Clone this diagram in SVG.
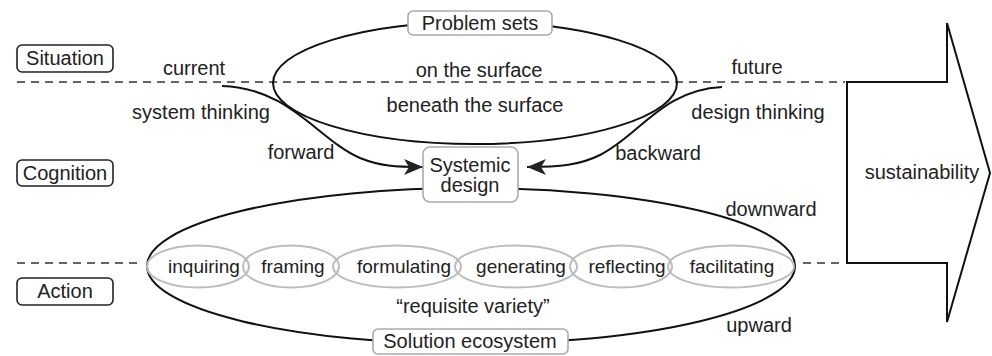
<svg xmlns="http://www.w3.org/2000/svg" width="992" height="356" viewBox="0 0 992 356">
<defs>
<style>
text{font-family:"Liberation Sans",Arial,sans-serif;font-size:20px;fill:#222;}
.c{text-anchor:middle;}
.s{font-size:19px;}
.dash{stroke:#333;stroke-width:1.6;stroke-dasharray:8 6;fill:none;}
.line{stroke:#111;stroke-width:2;fill:none;}
.small{stroke:#bdbdbd;stroke-width:2;fill:none;}
.gbox{fill:#fff;stroke:#aaa;stroke-width:1.6;}
.kbox{fill:#fff;stroke:#222;stroke-width:1.6;}
</style>
<marker id="ah" markerUnits="userSpaceOnUse" markerWidth="20" markerHeight="18" refX="19" refY="8" orient="auto" viewBox="0 0 20 16">
<path d="M0,0 L19,8 L0,16 L5,8 z" fill="#222"/>
</marker>
</defs>
<g id="dividers">
<line class="dash" x1="17" y1="82" x2="845" y2="82"/>
<line class="dash" x1="17" y1="263" x2="142" y2="263"/>
<line class="dash" x1="803" y1="263" x2="845" y2="263"/>
</g>
<g id="problem-ellipse"><ellipse class="line" cx="475" cy="83" rx="202" ry="61"/></g>
<g id="solution-ellipse"><ellipse class="line" cx="471" cy="266" rx="324" ry="78"/></g>
<g id="actions">
<g id="inquiring"><ellipse class="small" cx="198" cy="266.5" rx="51" ry="21"/><text class="c s" x="204" y="273">inquiring</text></g>
<g id="framing"><ellipse class="small" cx="291" cy="266.5" rx="48" ry="21"/><text class="c s" x="293" y="273">framing</text></g>
<g id="formulating"><ellipse class="small" cx="397" cy="266.5" rx="64" ry="21"/><text class="c s" x="404" y="273">formulating</text></g>
<g id="generating"><ellipse class="small" cx="516" cy="266.5" rx="61" ry="21"/><text class="c s" x="521" y="273">generating</text></g>
<g id="reflecting"><ellipse class="small" cx="621" cy="266.5" rx="51" ry="21"/><text class="c s" x="627" y="273">reflecting</text></g>
<g id="facilitating"><ellipse class="small" cx="731" cy="266.5" rx="63" ry="21"/><text class="c s" x="732" y="273">facilitating</text></g>
</g>
<g id="connectors">
<path class="line" d="M222,86 C290,88 318,140 360,158 C380,166 395,167 423,167" marker-end="url(#ah)"/>
<path class="line" d="M722,87 C662,90 640,135 600,155 C580,165 560,167 527,167" marker-end="url(#ah)"/>
</g>
<g id="sustainability">
<path class="line" d="M847,82 L947,82 L947,23 L990,173 L947,322 L947,263 L847,263 Z" fill="#fff"/>
<text class="c" x="922" y="179">sustainability</text>
</g>
<g id="problem-sets"><rect class="gbox" x="408" y="11" width="144" height="24" rx="5"/><text class="c" x="480" y="30">Problem sets</text></g>
<g id="systemic-design"><rect class="gbox" x="423" y="147" width="95" height="55" rx="7"/><text class="c" x="470" y="172">Systemic</text><text class="c" x="470" y="192">design</text></g>
<g id="solution-ecosystem"><rect class="gbox" x="373" y="329" width="195" height="25" rx="5"/><text class="c" x="470" y="348">Solution ecosystem</text></g>
<g id="situation"><rect class="kbox" x="17" y="45" width="96" height="27" rx="5"/><text class="c" x="65" y="65">Situation</text></g>
<g id="cognition"><rect class="kbox" x="17" y="160" width="96" height="26" rx="5"/><text class="c" x="65" y="180">Cognition</text></g>
<g id="action"><rect class="kbox" x="17" y="278" width="96" height="27" rx="5"/><text class="c" x="65" y="298">Action</text></g>
<g id="labels">
<text class="c" x="194" y="75">current</text>
<text class="c" x="201" y="119">system thinking</text>
<text class="c" x="301" y="159">forward</text>
<text class="c" x="479" y="77">on the surface</text>
<text class="c" x="475" y="112">beneath the surface</text>
<text class="c" x="757" y="74">future</text>
<text class="c" x="758" y="119">design thinking</text>
<text class="c" x="658" y="160">backward</text>
<text class="c" x="771" y="216">downward</text>
<text class="c" x="473" y="313">“requisite variety”</text>
<text class="c" x="759" y="332">upward</text>
</g>
</svg>
